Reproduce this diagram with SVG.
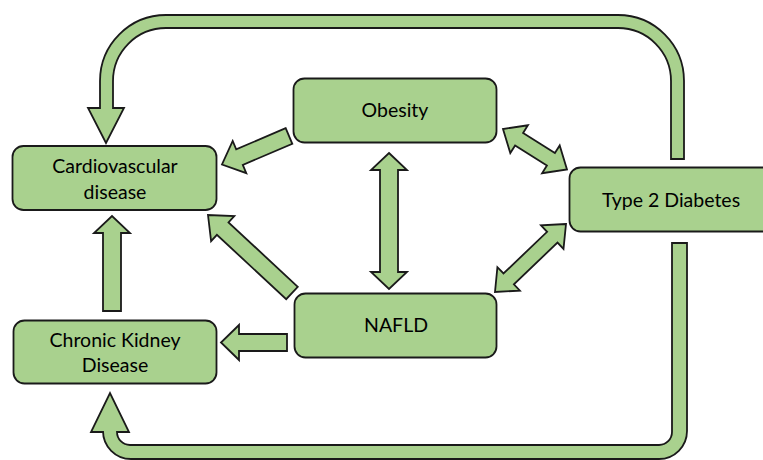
<svg xmlns="http://www.w3.org/2000/svg" width="763" height="460" viewBox="0 0 763 460">
<style>
.shape{fill:#A9D18E;stroke:#1a1a1a;stroke-width:1.8;stroke-linejoin:miter}
.box{fill:#A9D18E;stroke:#1a1a1a;stroke-width:1.8}
.lbl{font-family:Lato,"Open Sans","Liberation Sans",sans-serif;font-size:19.5px;fill:#000;text-anchor:middle}
</style>
<rect width="763" height="460" fill="#ffffff"/>
<g id="connectors">
<path class="shape" d="M 671,159 L 684,159 L 684,81 A 66 66 0 0 0 618,15 L 166,15 A 66 66 0 0 0 100,81 L 100,108 L 88,108 L 106,143 L 124,108 L 113,108 L 113,81 A 53 53 0 0 1 166,28 L 618,28 A 53 53 0 0 1 671,81 Z"/>
<path class="shape" d="M 672,243 L 687,243 L 687,431 A 28 28 0 0 1 659,459 L 131,459 A 28 28 0 0 1 103,431 L 103,432 L 91,432 L 110,393 L 129,432 L 117,432 A 13 13 0 0 0 130,445 L 659,445 A 13 13 0 0 0 672,432 Z"/>
<polygon class="shape" points="285.7,128.2 236.2,149.3 232.7,141.0 222,164.5 246.3,173.2 242.8,164.9 292.3,143.8"/>
<polygon class="shape" points="297.8,286.8 228.5,222.4 234.3,216.1 208,215 211.1,241.1 216.9,234.8 286.2,299.2"/>
<polygon class="shape" points="389,153 407,170 398,170 398,272 407,272 389,289 371,272 380,272 380,170 371,170"/>
<polygon class="shape" points="503,129 510.3,153.1 515.1,145.5 546.9,165.6 542.1,173.2 567,169.5 559.7,145.4 554.9,153.0 523.1,132.9 527.9,125.3"/>
<polygon class="shape" points="566,224 541.0,225.4 547.1,231.8 503.5,273.5 497.4,267.2 495,292 519.9,290.6 513.9,284.3 557.5,242.6 563.5,248.9"/>
<polygon class="shape" points="287,334 239,334 239,325 221,342.5 239,360 239,351 287,351"/>
<polygon class="shape" points="103,311 103,233 94,233 112,216 130,233 121,233 121,311"/>
</g>
<g id="node-obesity">
<rect class="box" x="293.5" y="78.5" width="203" height="64" rx="11"/>
<text class="lbl" x="395" y="117">Obesity</text>
</g>
<g id="node-cvd">
<rect class="box" x="12.5" y="146" width="204" height="64" rx="11"/>
<text class="lbl" x="115" y="173">Cardiovascular</text>
<text class="lbl" x="115" y="199">disease</text>
</g>
<g id="node-t2d">
<rect class="box" x="569.5" y="167.5" width="205" height="64" rx="11"/>
<text class="lbl" x="671" y="206.5">Type 2 Diabetes</text>
</g>
<g id="node-nafld">
<rect class="box" x="294.5" y="293.5" width="202" height="64" rx="11"/>
<text class="lbl" x="396" y="332">NAFLD</text>
</g>
<g id="node-ckd">
<rect class="box" x="13.5" y="320.5" width="203" height="63" rx="11"/>
<text class="lbl" x="115" y="347">Chronic Kidney</text>
<text class="lbl" x="115" y="372">Disease</text>
</g>
</svg>
